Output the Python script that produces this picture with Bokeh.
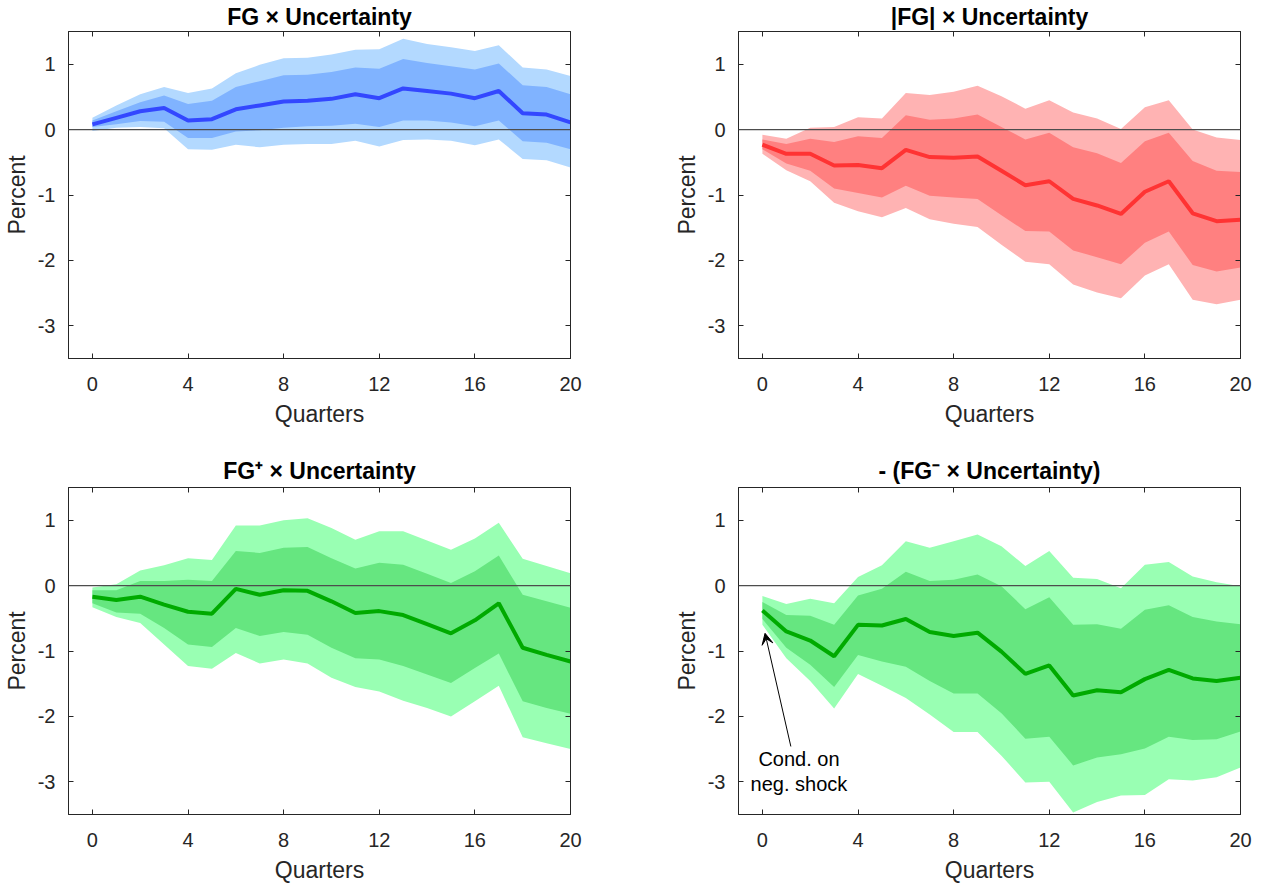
from bokeh.plotting import figure
from bokeh.models import (LinearAxis, Range1d, FixedTicker, Span, Arrow, VeeHead,
                          Label, ColumnDataSource)
from bokeh.layouts import column, row
from bokeh.embed import file_html
from bokeh.resources import INLINE

# ---------------- data ----------------
quarters = list(range(21))
x_ticks = [0, 4, 8, 12, 16, 20]
y_ticks = [-3, -2, -1, 0, 1]
y_tick_labels = ["-3", "-2", "-1", "0", "1"]

titles = ["FG \u00d7 Uncertainty", "|FG| \u00d7 Uncertainty",
          "FG\u207a \u00d7 Uncertainty", "- (FG\u207b \u00d7 Uncertainty)"]

# Panel 1: FG x Uncertainty (blue)
fg_med = [0.08, 0.18, 0.28, 0.33, 0.14, 0.16, 0.31, 0.37, 0.43, 0.44, 0.47,
          0.54, 0.48, 0.63, 0.59, 0.55, 0.48, 0.59, 0.25, 0.23, 0.11]
fg_hi90 = [0.18, 0.37, 0.54, 0.65, 0.56, 0.63, 0.86, 0.99, 1.09, 1.10, 1.15,
           1.22, 1.23, 1.39, 1.31, 1.26, 1.20, 1.29, 0.95, 0.92, 0.82]
fg_hi68 = [0.14, 0.28, 0.42, 0.52, 0.39, 0.44, 0.65, 0.74, 0.83, 0.84, 0.88,
           0.95, 0.93, 1.08, 1.02, 0.97, 0.92, 1.01, 0.68, 0.65, 0.54]
fg_lo68 = [0.04, 0.08, 0.13, 0.12, -0.13, -0.13, -0.03, -0.01, 0.03, 0.05, 0.06,
           0.09, 0.04, 0.14, 0.14, 0.11, 0.05, 0.14, -0.18, -0.20, -0.30]
fg_lo90 = [-0.02, 0.03, 0.04, 0.02, -0.30, -0.31, -0.23, -0.27, -0.23, -0.22, -0.22,
           -0.17, -0.26, -0.16, -0.15, -0.17, -0.24, -0.15, -0.45, -0.47, -0.58]

# Panel 2: |FG| x Uncertainty (red)
abs_med = [-0.23, -0.37, -0.37, -0.55, -0.54, -0.59, -0.31, -0.42, -0.43, -0.41, -0.63,
           -0.85, -0.79, -1.06, -1.16, -1.29, -0.95, -0.79, -1.28, -1.40, -1.38]
abs_hi90 = [-0.08, -0.14, 0.03, 0.04, 0.19, 0.17, 0.56, 0.53, 0.58, 0.67, 0.51,
            0.32, 0.45, 0.26, 0.17, 0.01, 0.34, 0.45, 0.00, -0.12, -0.16]
abs_hi68 = [-0.15, -0.22, -0.14, -0.19, -0.10, -0.13, 0.22, 0.15, 0.17, 0.23, 0.04,
            -0.15, -0.05, -0.27, -0.36, -0.51, -0.18, -0.05, -0.48, -0.63, -0.65]
abs_lo68 = [-0.30, -0.52, -0.63, -0.90, -0.97, -1.04, -0.86, -1.01, -1.04, -1.06, -1.31,
            -1.55, -1.56, -1.85, -1.95, -2.06, -1.73, -1.56, -2.07, -2.17, -2.11]
abs_lo90 = [-0.37, -0.62, -0.79, -1.12, -1.25, -1.34, -1.20, -1.37, -1.44, -1.49, -1.76,
            -2.02, -2.06, -2.37, -2.49, -2.58, -2.23, -2.06, -2.60, -2.67, -2.60]

# Panel 3: FG+ x Uncertainty (green)
pos_med = [-0.17, -0.22, -0.17, -0.29, -0.40, -0.43, -0.05, -0.14, -0.07, -0.08, -0.24,
           -0.42, -0.39, -0.45, -0.59, -0.73, -0.53, -0.27, -0.95, -1.06, -1.16]
pos_hi90 = [-0.03, 0.02, 0.23, 0.31, 0.42, 0.39, 0.92, 0.92, 1.00, 1.03, 0.88,
            0.70, 0.83, 0.83, 0.69, 0.55, 0.72, 0.96, 0.41, 0.30, 0.19]
pos_hi68 = [-0.07, -0.07, 0.07, 0.07, 0.09, 0.07, 0.53, 0.50, 0.58, 0.59, 0.42,
            0.26, 0.35, 0.32, 0.18, 0.04, 0.22, 0.46, -0.14, -0.24, -0.34]
pos_lo68 = [-0.27, -0.41, -0.43, -0.65, -0.90, -0.94, -0.65, -0.77, -0.71, -0.75, -0.95,
            -1.11, -1.13, -1.23, -1.36, -1.49, -1.26, -1.04, -1.77, -1.87, -1.96]
pos_lo90 = [-0.33, -0.48, -0.57, -0.90, -1.23, -1.27, -1.03, -1.19, -1.13, -1.19, -1.41,
            -1.55, -1.62, -1.76, -1.87, -2.00, -1.77, -1.53, -2.32, -2.41, -2.50]

# Panel 4: -(FG- x Uncertainty) (green)
neg_med = [-0.38, -0.70, -0.84, -1.08, -0.60, -0.61, -0.51, -0.71, -0.77, -0.72, -1.01,
           -1.35, -1.22, -1.68, -1.60, -1.63, -1.43, -1.29, -1.42, -1.46, -1.41]
neg_hi90 = [-0.16, -0.28, -0.20, -0.27, 0.13, 0.31, 0.68, 0.58, 0.68, 0.78, 0.60,
            0.30, 0.53, 0.12, 0.10, -0.04, 0.32, 0.36, 0.14, 0.05, -0.01]
neg_hi68 = [-0.25, -0.45, -0.46, -0.60, -0.15, -0.05, 0.21, 0.07, 0.09, 0.17, -0.01,
            -0.36, -0.18, -0.60, -0.59, -0.66, -0.37, -0.30, -0.48, -0.55, -0.59]
neg_lo68 = [-0.51, -0.95, -1.21, -1.55, -1.06, -1.16, -1.24, -1.46, -1.65, -1.65, -1.95,
            -2.34, -2.31, -2.75, -2.63, -2.58, -2.49, -2.31, -2.36, -2.35, -2.23]
neg_lo90 = [-0.60, -1.11, -1.46, -1.88, -1.35, -1.53, -1.72, -1.97, -2.24, -2.24, -2.60,
            -3.01, -3.00, -3.47, -3.31, -3.21, -3.20, -2.96, -2.98, -2.93, -2.78]

# annotation (panel 4)
arrow_tail = (1.19, -2.46)
arrow_tip = (0.11, -0.73)
note_lines = ["Cond. on", "neg. shock"]
note_x = 1.53
note_y = [-2.65, -3.04]

# ---------------- styling ----------------
FONT = "Liberation Sans"
AX = "#262626"
BLUE = ("#b3d9ff", "#80b3ff", "#3347ff")
RED = ("#ffb3b3", "#ff8080", "#ff3333")
GREEN = ("#99ffb3", "#66e680", "#00aa00")


def make_panel(title, med, lo90, hi90, lo68, hi68, colors, ml, mr, mt, mb, tstand):
    src = ColumnDataSource(dict(x=quarters, med=med, lo90=lo90, hi90=hi90,
                                lo68=lo68, hi68=hi68))
    p = figure(frame_width=502, frame_height=327,
               x_range=Range1d(-1, 20), y_range=Range1d(-3.5, 1.5),
               output_backend="svg", toolbar_location=None,
               min_border_left=ml, min_border_right=mr,
               min_border_top=mt, min_border_bottom=mb,
               background_fill_color="white", border_fill_color="white")
    p.xgrid.visible = False
    p.ygrid.visible = False
    p.outline_line_color = AX
    p.outline_line_width = 1

    p.varea(x="x", y1="lo90", y2="hi90", source=src, fill_color=colors[0])
    p.varea(x="x", y1="lo68", y2="hi68", source=src, fill_color=colors[1])
    p.add_layout(Span(location=0, dimension="width", line_color="#4d4d4d",
                      line_width=1.2))
    p.line(x="x", y="med", source=src, line_color=colors[2], line_width=4)

    # title
    p.title.text = title
    p.title.align = "center"
    p.title.text_font = FONT
    p.title.text_font_size = "23px"
    p.title.text_font_style = "bold"
    p.title.text_color = "black"
    p.title.standoff = tstand

    xa = p.xaxis[0]
    xa.ticker = FixedTicker(ticks=x_ticks)
    xa.axis_label = "Quarters"
    ya = p.yaxis[0]
    ya.ticker = FixedTicker(ticks=y_ticks)
    ya.major_label_overrides = dict(zip(y_ticks, y_tick_labels))
    ya.axis_label = "Percent"
    for ax in (xa, ya):
        ax.axis_line_color = AX
        ax.major_tick_line_color = AX
        ax.major_tick_in = 5
        ax.major_tick_out = 0
        ax.minor_tick_line_color = None
        ax.major_label_text_font = FONT
        ax.major_label_text_font_size = "20px"
        ax.major_label_text_color = AX
        ax.axis_label_text_font = FONT
        ax.axis_label_text_font_size = "23px"
        ax.axis_label_text_font_style = "normal"
        ax.axis_label_text_color = AX
    xa.major_label_standoff = 18
    xa.axis_label_standoff = 7
    ya.major_label_standoff = 13
    ya.axis_label_standoff = 5

    # mirrored tick axes (box style)
    ra = LinearAxis(ticker=FixedTicker(ticks=y_ticks),
                    major_label_overrides={t: "" for t in y_ticks})
    ta = LinearAxis(ticker=FixedTicker(ticks=x_ticks),
                    major_label_overrides={t: "" for t in x_ticks})
    for ax in (ra, ta):
        ax.axis_line_color = AX
        ax.major_tick_line_color = AX
        ax.major_tick_in = 5
        ax.major_tick_out = 0
        ax.minor_tick_line_color = None
        ax.major_label_standoff = 0
        ax.major_label_text_font_size = "1px"
    p.add_layout(ra, "right")
    p.add_layout(ta, "above")
    return p


p1 = make_panel(titles[0], fg_med, fg_lo90, fg_hi90, fg_lo68, fg_hi68, BLUE, 60, 100, 25, 94, 3)
p2 = make_panel(titles[1], abs_med, abs_lo90, abs_hi90, abs_lo68, abs_hi68, RED, 60, 17, 25, 94, 3)
p3 = make_panel(titles[2], pos_med, pos_lo90, pos_hi90, pos_lo68, pos_hi68, GREEN, 60, 100, 25, 60, 7)
p4 = make_panel(titles[3], neg_med, neg_lo90, neg_hi90, neg_lo68, neg_hi68, GREEN, 60, 17, 25, 60, 7)

p4.add_layout(Arrow(x_start=arrow_tail[0], y_start=arrow_tail[1],
                    x_end=arrow_tip[0], y_end=arrow_tip[1],
                    line_color="black", line_width=1,
                    end=VeeHead(size=11, fill_color="black", line_color="black")))
for txt, yy in zip(note_lines, note_y):
    p4.add_layout(Label(x=note_x, y=yy, text=txt, text_align="center",
                        text_baseline="middle", text_font=FONT,
                        text_font_size="20px", text_color="black"))

layout = column(row(p1, p2), row(p3, p4))

with open("out.html", "w") as f:
    f.write(file_html(layout, INLINE))
